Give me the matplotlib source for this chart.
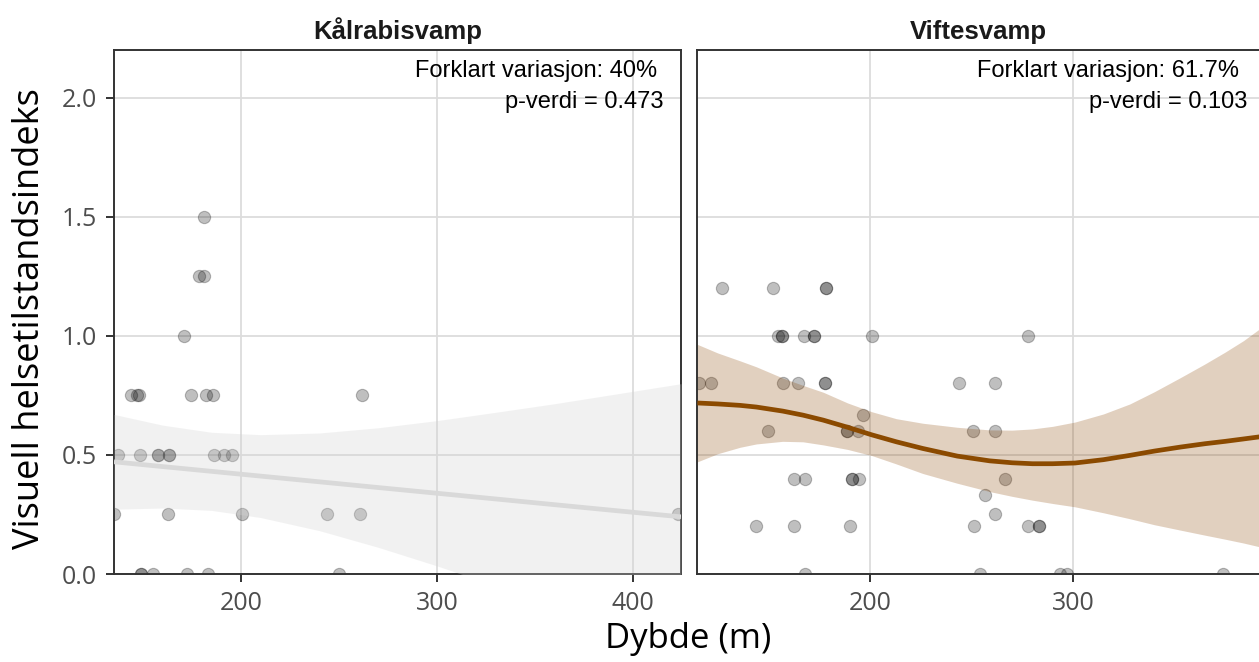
import matplotlib
matplotlib.use('Agg')
import matplotlib.pyplot as plt
import numpy as np

# Kålrabisvamp: depth (m) and health index per observation
kal_dybde = [181,
             178.5, 181,
             171,
             143.7, 147, 148, 174.5, 182.1, 185.6, 261.6,
             137.4, 148.3, 157.8, 157.8, 163.4, 163.4, 186.4, 191.5, 195.6,
             135.2, 162.9, 200.7, 244, 260.7, 422.8,
             148.8, 148.8, 155.3, 172.6, 183.3, 249.8]
kal_indeks = [1.5,
              1.25, 1.25,
              1.0,
              0.75, 0.75, 0.75, 0.75, 0.75, 0.75, 0.75,
              0.5, 0.5, 0.5, 0.5, 0.5, 0.5, 0.5, 0.5, 0.5,
              0.25, 0.25, 0.25, 0.25, 0.25, 0.25,
              0, 0, 0, 0, 0, 0]

# Viftesvamp
vif_dybde = [127, 152.1, 178.3, 178.3,
             154.8, 156.5, 156.5, 167.5, 172.4, 172.4, 200.8, 278,
             115.9, 121.5, 157.3, 164.4, 177.8, 177.8, 244, 261.7,
             196.7,
             149.6, 188.8, 188.8, 194.3, 250.9, 261.7,
             162.8, 168.1, 191.3, 191.3, 194.7, 266.7,
             256.8,
             261.7,
             143.7, 162.8, 190.3, 251.4, 277.8, 283.4, 283.4,
             168.1, 254.2, 293.6, 296.9, 374]
vif_indeks = [1.2, 1.2, 1.2, 1.2,
              1.0, 1.0, 1.0, 1.0, 1.0, 1.0, 1.0, 1.0,
              0.8, 0.8, 0.8, 0.8, 0.8, 0.8, 0.8, 0.8,
              0.667,
              0.6, 0.6, 0.6, 0.6, 0.6, 0.6,
              0.4, 0.4, 0.4, 0.4, 0.4, 0.4,
              0.333,
              0.25,
              0.2, 0.2, 0.2, 0.2, 0.2, 0.2, 0.2,
              0, 0, 0, 0, 0]

# fitted trend with confidence band
kal_grid = [135.2, 160, 185, 210, 240, 270, 300, 330, 360, 390, 424.5]
kal_fit = [0.471, 0.451, 0.431, 0.411, 0.387, 0.363, 0.339, 0.315, 0.291, 0.267, 0.240]
kal_lo = [0.272, 0.277, 0.267, 0.237, 0.182, 0.112, 0.034, -0.049, -0.133, -0.220, -0.319]
kal_hi = [0.670, 0.625, 0.595, 0.585, 0.592, 0.614, 0.644, 0.679, 0.715, 0.754, 0.799]

vif_grid = [115, 125, 136, 144, 157, 167, 177, 189, 201, 213, 226, 243, 259, 270,
            280, 290, 301, 315, 328, 340, 353, 365, 375, 384, 392]
vif_fit = [0.718, 0.714, 0.708, 0.701, 0.684, 0.667, 0.646, 0.616, 0.584, 0.555, 0.527,
           0.495, 0.475, 0.467, 0.463, 0.463, 0.466, 0.480, 0.498, 0.516, 0.533,
           0.547, 0.557, 0.567, 0.576]
vif_lo = [0.471, 0.505, 0.532, 0.546, 0.557, 0.555, 0.542, 0.523, 0.497, 0.462, 0.422,
          0.381, 0.346, 0.326, 0.310, 0.296, 0.282, 0.257, 0.232, 0.207, 0.184,
          0.163, 0.146, 0.130, 0.114]
vif_hi = [0.964, 0.928, 0.895, 0.870, 0.823, 0.792, 0.763, 0.718, 0.681, 0.652, 0.633,
          0.616, 0.605, 0.604, 0.609, 0.620, 0.638, 0.672, 0.714, 0.765, 0.825,
          0.882, 0.932, 0.980, 1.030]

titler = ['Kålrabisvamp', 'Viftesvamp']
forklart = ['Forklart variasjon: 40%', 'Forklart variasjon: 61.7%']
pverdi = ['p-verdi = 0.473', 'p-verdi = 0.103']

W, H = 1259, 662
fig = plt.figure(figsize=(W / 100, H / 100), dpi=100)

def px_box(x0, y0, x1, y1):
    return [x0 / W, 1 - y1 / H, (x1 - x0) / W, (y1 - y0) / H]

ax1 = fig.add_axes(px_box(114, 50, 681, 574))
ax2 = fig.add_axes(px_box(697, 50, 1259, 574))

panels = [
    (ax1, kal_dybde, kal_indeks, kal_grid, kal_fit, kal_lo, kal_hi,
     '#d9d9d9', '#d3d3d3', 0.3, (135.2, 424.5), [200, 300, 400]),
    (ax2, vif_dybde, vif_indeks, vif_grid, vif_fit, vif_lo, vif_hi,
     '#8b4a00', '#8b4500', 0.25, (114.8, 391.6), [200, 300]),
]

tick_font = 'Open Sans'
for i, (ax, x, y, g, f, lo, hi, lc, fc, fa, xl, xt) in enumerate(panels):
    ax.set_axisbelow(True)
    ax.grid(True, color='#dcdcdc', lw=1.3)
    ax.scatter(x, y, s=78, color='black', alpha=0.25, lw=0.8, zorder=2, clip_on=True)
    ax.fill_between(g, lo, hi, color=fc, alpha=fa, lw=0, zorder=3)
    ax.plot(g, f, color=lc, lw=3.4, zorder=4, solid_capstyle='butt', solid_joinstyle='round')
    ax.set_xlim(*xl)
    ax.set_ylim(0, 2.2)
    ax.set_xticks(xt)
    ax.set_yticks([0, 0.5, 1.0, 1.5, 2.0])
    for s in ax.spines.values():
        s.set_color('#333333')
        s.set_linewidth(1.4)
    ax.tick_params(colors='#333333', width=1.4, length=6, pad=6,
                   labelcolor='#4d4d4d', labelsize=18)
    for lab in ax.get_xticklabels() + ax.get_yticklabels():
        lab.set_family(tick_font)
    if i == 0:
        ax.set_yticklabels(['0.0', '0.5', '1.0', '1.5', '2.0'])
    else:
        ax.tick_params(axis='y', left=False, labelleft=False)
        ax.spines['right'].set_visible(False)
    ax.text(0.958 if i == 0 else 0.964, 2.113, forklart[i], transform=ax.get_yaxis_transform(),
            ha='right', va='center', fontsize=17, family='Liberation Sans', color='black')
    ax.text(0.970 if i == 0 else 0.980, 1.983, pverdi[i], transform=ax.get_yaxis_transform(),
            ha='right', va='center', fontsize=17, family='Liberation Sans', color='black')
    ax.set_title(titler[i], fontsize=18.5, fontweight='bold', family='Liberation Sans',
                 color='#1a1a1a', pad=8)

fig.text(688 / W, 1 - 639 / H, 'Dybde (m)', ha='center', va='center',
         fontsize=25, family=tick_font, color='black')
fig.text(30 / W, 1 - 319 / H, 'Visuell helsetilstandsindeks', ha='center', va='center',
         rotation=90, fontsize=26, family=tick_font, color='black')

fig.savefig('out.png', dpi=100)
